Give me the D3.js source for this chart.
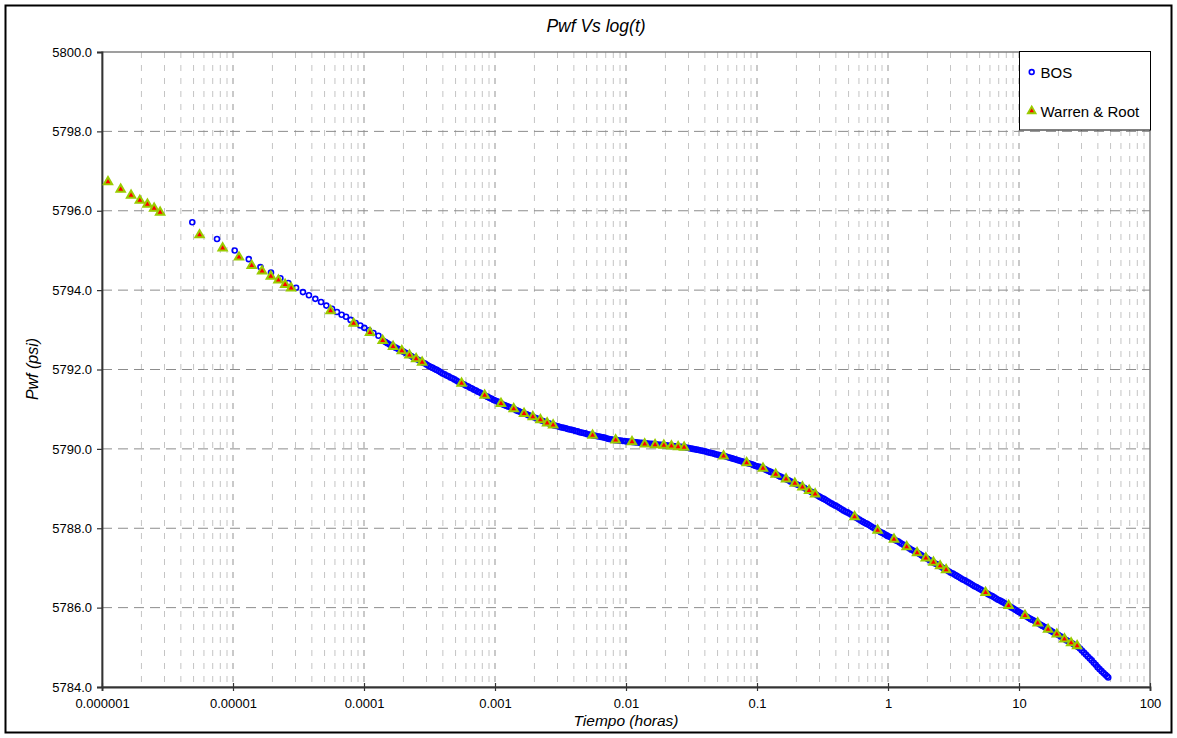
<!DOCTYPE html>
<html>
<head>
<meta charset="utf-8">
<script src="https://cdn.jsdelivr.net/npm/d3@7"></script>
<style>
    body { margin: 0; background: #fff; }
    text { font-family: "Liberation Sans", Arial, sans-serif; fill: #000; }
</style>
</head>
<body>
<div id="chart"></div>
<script>
// BOS series: time (hours) and Pwf (psi)
const bosTime = [
    4.89e-6, 7.55e-6, 1.03e-5, 1.32e-5, 1.62e-5, 1.95e-5, 2.30e-5, 2.64e-5, 3.03e-5, 3.42e-5,
    3.80e-5, 4.25e-5, 4.70e-5, 5.16e-5, 5.70e-5, 6.22e-5, 6.75e-5, 7.29e-5, 7.90e-5, 8.63e-5,
    9.37e-5, 1.005e-4, 1.09e-4, 1.18e-4, 1.29e-4,
    1.41e-4, 1.46e-4, 1.51e-4, 1.57e-4, 1.62e-4, 1.68e-4, 1.74e-4, 1.80e-4, 1.86e-4, 1.93e-4,
    2.00e-4, 2.07e-4, 2.14e-4, 2.21e-4, 2.29e-4, 2.37e-4, 2.46e-4, 2.54e-4, 2.63e-4, 2.72e-4,
    2.82e-4, 2.92e-4, 3.02e-4, 3.13e-4, 3.24e-4, 3.35e-4, 3.47e-4, 3.59e-4, 3.72e-4, 3.85e-4,
    3.98e-4, 4.12e-4, 4.27e-4, 4.42e-4, 4.57e-4, 4.73e-4, 4.90e-4, 5.07e-4, 5.25e-4, 5.43e-4,
    5.62e-4, 5.82e-4, 6.03e-4, 6.24e-4, 6.46e-4, 6.68e-4, 6.92e-4, 7.16e-4, 7.41e-4, 7.67e-4,
    7.94e-4, 8.22e-4, 8.51e-4, 8.81e-4, 9.12e-4, 9.44e-4, 9.77e-4,
    1.00e-3, 1.04e-3, 1.07e-3, 1.11e-3, 1.15e-3, 1.19e-3, 1.23e-3, 1.27e-3, 1.32e-3, 1.37e-3,
    1.41e-3, 1.46e-3, 1.51e-3, 1.57e-3, 1.62e-3, 1.68e-3, 1.74e-3, 1.80e-3, 1.86e-3, 1.93e-3,
    2.00e-3, 2.07e-3, 2.14e-3, 2.21e-3, 2.29e-3, 2.37e-3, 2.46e-3, 2.54e-3, 2.63e-3, 2.72e-3,
    2.82e-3, 2.92e-3, 3.02e-3, 3.13e-3, 3.24e-3, 3.35e-3, 3.47e-3, 3.59e-3, 3.72e-3, 3.85e-3,
    3.98e-3, 4.12e-3, 4.27e-3, 4.42e-3, 4.57e-3, 4.73e-3, 4.90e-3, 5.07e-3, 5.25e-3, 5.43e-3,
    5.62e-3, 5.82e-3, 6.03e-3, 6.24e-3, 6.46e-3, 6.68e-3, 6.92e-3, 7.16e-3, 7.41e-3, 7.67e-3,
    7.94e-3, 8.22e-3, 8.51e-3, 8.81e-3, 9.12e-3, 9.44e-3, 9.77e-3,
    1.00e-2, 1.04e-2, 1.07e-2, 1.11e-2, 1.15e-2, 1.19e-2, 1.23e-2, 1.27e-2, 1.32e-2, 1.37e-2,
    1.41e-2, 1.46e-2, 1.51e-2, 1.57e-2, 1.62e-2, 1.68e-2, 1.74e-2, 1.80e-2, 1.86e-2, 1.93e-2,
    2.00e-2, 2.07e-2, 2.14e-2, 2.21e-2, 2.29e-2, 2.37e-2, 2.46e-2, 2.54e-2, 2.63e-2, 2.72e-2,
    2.82e-2, 2.92e-2, 3.02e-2, 3.13e-2, 3.24e-2, 3.35e-2, 3.47e-2, 3.59e-2, 3.72e-2, 3.85e-2,
    3.98e-2, 4.12e-2, 4.27e-2, 4.42e-2, 4.57e-2, 4.73e-2, 4.90e-2, 5.07e-2, 5.25e-2, 5.43e-2,
    5.62e-2, 5.82e-2, 6.03e-2, 6.24e-2, 6.46e-2, 6.68e-2, 6.92e-2, 7.16e-2, 7.41e-2, 7.67e-2,
    7.94e-2, 8.22e-2, 8.51e-2, 8.81e-2, 9.12e-2, 9.44e-2, 9.77e-2,
    0.100, 0.104, 0.107, 0.111, 0.115, 0.119, 0.123, 0.127, 0.132, 0.137,
    0.141, 0.146, 0.151, 0.157, 0.162, 0.168, 0.174, 0.180, 0.186, 0.193,
    0.200, 0.207, 0.214, 0.221, 0.229, 0.237, 0.246, 0.254, 0.263, 0.272,
    0.282, 0.292, 0.302, 0.313, 0.324, 0.335, 0.347, 0.359, 0.372, 0.385,
    0.398, 0.412, 0.427, 0.442, 0.457, 0.473, 0.490, 0.507, 0.525, 0.543,
    0.562, 0.582, 0.603, 0.624, 0.646, 0.668, 0.692, 0.716, 0.741, 0.767,
    0.794, 0.822, 0.851, 0.881, 0.912, 0.944, 0.977,
    1.00, 1.04, 1.07, 1.11, 1.15, 1.19, 1.23, 1.27, 1.32, 1.37,
    1.41, 1.46, 1.51, 1.57, 1.62, 1.68, 1.74, 1.80, 1.86, 1.93,
    2.00, 2.07, 2.14, 2.21, 2.29, 2.37, 2.46, 2.54, 2.63, 2.72,
    2.82, 2.92, 3.02, 3.13, 3.24, 3.35, 3.47, 3.59, 3.72, 3.85,
    3.98, 4.12, 4.27, 4.42, 4.57, 4.73, 4.90, 5.07, 5.25, 5.43,
    5.62, 5.82, 6.03, 6.24, 6.46, 6.68, 6.92, 7.16, 7.41, 7.67,
    7.94, 8.22, 8.51, 8.81, 9.12, 9.44, 9.77,
    10.0, 10.4, 10.7, 11.1, 11.5, 11.9, 12.3, 12.7, 13.2, 13.7,
    14.1, 14.6, 15.1, 15.7, 16.2, 16.8, 17.4, 18.0, 18.6, 19.3,
    20.0, 20.7, 21.4, 22.1, 22.9, 23.7, 24.6, 25.4, 26.3, 27.2,
    28.2, 29.2, 30.2, 31.3, 32.4, 33.5, 34.7, 35.9, 37.2, 38.5,
    39.8, 41.2, 42.7, 44.2, 45.7, 47.0, 48.0
];
const bosPwf = [
    5795.71, 5795.29, 5795.00, 5794.78, 5794.58, 5794.44, 5794.30, 5794.18, 5794.06, 5793.95,
    5793.87, 5793.78, 5793.70, 5793.61, 5793.53, 5793.45, 5793.38, 5793.33, 5793.25, 5793.17,
    5793.11, 5793.05, 5792.99, 5792.92, 5792.85,
    5792.72, 5792.69, 5792.66, 5792.63, 5792.60, 5792.58, 5792.55, 5792.53, 5792.50, 5792.48,
    5792.45, 5792.42, 5792.39, 5792.37, 5792.34, 5792.31, 5792.28, 5792.26, 5792.23, 5792.20,
    5792.17, 5792.15, 5792.12, 5792.09, 5792.06, 5792.04, 5792.01, 5791.99, 5791.96, 5791.93,
    5791.90, 5791.88, 5791.85, 5791.83, 5791.80, 5791.78, 5791.75, 5791.72, 5791.69, 5791.67,
    5791.64, 5791.62, 5791.59, 5791.57, 5791.54, 5791.52, 5791.49, 5791.47, 5791.44, 5791.42,
    5791.39, 5791.36, 5791.33, 5791.31, 5791.28, 5791.26, 5791.23,
    5791.22, 5791.20, 5791.17, 5791.15, 5791.12, 5791.10, 5791.08, 5791.06, 5791.04, 5791.02,
    5791.00, 5790.97, 5790.95, 5790.93, 5790.91, 5790.89, 5790.87, 5790.85, 5790.83, 5790.81,
    5790.79, 5790.77, 5790.75, 5790.73, 5790.71, 5790.69, 5790.66, 5790.65, 5790.63, 5790.61,
    5790.59, 5790.58, 5790.57, 5790.55, 5790.54, 5790.53, 5790.52, 5790.50, 5790.49, 5790.48,
    5790.47, 5790.45, 5790.44, 5790.42, 5790.41, 5790.40, 5790.39, 5790.37, 5790.36, 5790.35,
    5790.34, 5790.33, 5790.32, 5790.31, 5790.30, 5790.29, 5790.28, 5790.26, 5790.25, 5790.24,
    5790.23, 5790.22, 5790.22, 5790.21, 5790.21, 5790.20, 5790.20,
    5790.190, 5790.185, 5790.180, 5790.175, 5790.170, 5790.165, 5790.160, 5790.155, 5790.150, 5790.145,
    5790.140, 5790.135, 5790.130, 5790.125, 5790.120, 5790.115, 5790.110, 5790.105, 5790.100, 5790.095,
    5790.090, 5790.085, 5790.080, 5790.075, 5790.070, 5790.065, 5790.060, 5790.055, 5790.050, 5790.045,
    5790.040, 5790.030, 5790.020, 5790.010, 5790.000, 5789.990, 5789.980, 5789.970, 5789.960, 5789.950,
    5789.940, 5789.925, 5789.910, 5789.900, 5789.890, 5789.875, 5789.860, 5789.850, 5789.840, 5789.830,
    5789.820, 5789.805, 5789.790, 5789.775, 5789.760, 5789.745, 5789.730, 5789.715, 5789.700, 5789.685,
    5789.670, 5789.655, 5789.640, 5789.625, 5789.610, 5789.590, 5789.570,
    5789.56, 5789.55, 5789.54, 5789.51, 5789.49, 5789.46, 5789.44, 5789.42, 5789.40, 5789.37,
    5789.35, 5789.32, 5789.30, 5789.28, 5789.26, 5789.23, 5789.21, 5789.18, 5789.16, 5789.13,
    5789.11, 5789.09, 5789.07, 5789.04, 5789.02, 5788.99, 5788.96, 5788.93, 5788.91, 5788.88,
    5788.85, 5788.82, 5788.79, 5788.76, 5788.74, 5788.71, 5788.68, 5788.65, 5788.62, 5788.59,
    5788.57, 5788.54, 5788.51, 5788.48, 5788.45, 5788.42, 5788.40, 5788.37, 5788.34, 5788.31,
    5788.28, 5788.25, 5788.22, 5788.19, 5788.16, 5788.13, 5788.11, 5788.08, 5788.05, 5788.02,
    5787.99, 5787.96, 5787.93, 5787.90, 5787.88, 5787.85, 5787.82,
    5787.80, 5787.78, 5787.75, 5787.72, 5787.69, 5787.67, 5787.64, 5787.61, 5787.58, 5787.55,
    5787.52, 5787.49, 5787.46, 5787.43, 5787.40, 5787.38, 5787.35, 5787.32, 5787.29, 5787.26,
    5787.23, 5787.20, 5787.17, 5787.14, 5787.11, 5787.09, 5787.06, 5787.03, 5787.00, 5786.97,
    5786.94, 5786.91, 5786.88, 5786.86, 5786.83, 5786.80, 5786.77, 5786.74, 5786.71, 5786.69,
    5786.66, 5786.63, 5786.60, 5786.57, 5786.54, 5786.52, 5786.49, 5786.46, 5786.43, 5786.40,
    5786.37, 5786.34, 5786.31, 5786.29, 5786.26, 5786.23, 5786.20, 5786.18, 5786.15, 5786.12,
    5786.09, 5786.06, 5786.03, 5786.00, 5785.97, 5785.94, 5785.91,
    5785.89, 5785.86, 5785.83, 5785.80, 5785.77, 5785.74, 5785.71, 5785.69, 5785.66, 5785.63,
    5785.60, 5785.57, 5785.54, 5785.51, 5785.48, 5785.45, 5785.42, 5785.39, 5785.36, 5785.34,
    5785.31, 5785.28, 5785.25, 5785.22, 5785.18, 5785.16, 5785.13, 5785.10, 5785.07, 5785.04,
    5785.01, 5784.97, 5784.92, 5784.87, 5784.82, 5784.77, 5784.72, 5784.67, 5784.61, 5784.56,
    5784.50, 5784.45, 5784.40, 5784.35, 5784.31, 5784.27, 5784.24
];

// Warren & Root series: time (seconds) and Pwf (psi)
const wrSeconds = [
    0.004, 0.005, 0.006, 0.007, 0.008, 0.009, 0.01,
    0.02, 0.03, 0.04, 0.05, 0.06, 0.07, 0.08, 0.09, 0.1,
    0.2, 0.3, 0.4, 0.5, 0.6, 0.7, 0.8, 0.9, 1,
    2, 3, 4, 5, 6, 7, 8, 9, 10,
    20, 30, 40, 50, 60, 70, 80, 90, 100,
    200, 300, 400, 500, 600, 700, 800, 900, 1000,
    2000, 3000, 4000, 5000, 6000, 7000, 8000, 9000, 10000,
    20000, 30000, 40000, 50000, 60000, 70000, 80000, 90000, 100000
];
const wrPwf = [
    5796.73, 5796.54, 5796.39, 5796.26, 5796.16, 5796.06, 5795.96,
    5795.39, 5795.06, 5794.83, 5794.62, 5794.48, 5794.35, 5794.25, 5794.14, 5794.05,
    5793.48, 5793.16, 5792.93, 5792.73, 5792.58, 5792.47, 5792.36, 5792.27, 5792.18,
    5791.65, 5791.35, 5791.14, 5791.01, 5790.89, 5790.81, 5790.73, 5790.65, 5790.60,
    5790.34, 5790.22, 5790.18, 5790.12, 5790.10, 5790.09, 5790.07, 5790.05, 5790.04,
    5789.82, 5789.65, 5789.51, 5789.36, 5789.24, 5789.13, 5789.04, 5788.95, 5788.86,
    5788.29, 5787.95, 5787.72, 5787.53, 5787.38, 5787.25, 5787.14, 5787.05, 5786.95,
    5786.38, 5786.05, 5785.80, 5785.61, 5785.45, 5785.33, 5785.21, 5785.11, 5785.04
];

const xTickValues = [1e-6, 1e-5, 1e-4, 1e-3, 1e-2, 1e-1, 1, 10, 100];
const xTickLabels = ["0.000001", "0.00001", "0.0001", "0.001", "0.01", "0.1", "1", "10", "100"];
const yTickValues = [5784, 5786, 5788, 5790, 5792, 5794, 5796, 5798, 5800];
const seriesNames = ["BOS", "Warren & Root"];

let margin = {top: 52, right: 27, bottom: 51, left: 102},
    width = 1177 - margin.left - margin.right,
    height = 738 - margin.top - margin.bottom;

let root = d3.select("#chart")
    .append("svg")
    .attr("width", 1177)
    .attr("height", 738);

// outer chart frame
root.append("rect")
    .attr("x", 5.5)
    .attr("y", 5.5)
    .attr("width", 1166)
    .attr("height", 727)
    .attr("fill", "#fff")
    .attr("stroke", "#000")
    .attr("stroke-width", 2);

let svg = root.append("g")
    .attr("transform", `translate(${margin.left}, ${margin.top})`);

let x = d3.scaleLog()
    .domain([xTickValues[0], xTickValues[xTickValues.length - 1]])
    .range([0, width]);
let y = d3.scaleLinear()
    .domain([yTickValues[0], yTickValues[yTickValues.length - 1]])
    .range([height, 0]);

// minor vertical grid (2..9 in every decade)
let minor = [];
xTickValues.slice(0, -1).forEach(d => {
    for (let m = 2; m <= 9; m++) minor.push(d * m);
});
svg.selectAll(".minorGrid")
    .data(minor)
    .join("line")
    .attr("class", "minorGrid")
    .attr("x1", d => x(d)).attr("x2", d => x(d))
    .attr("y1", 0).attr("y2", height)
    .attr("stroke", "#c4c4c4")
    .attr("stroke-width", 1)
    .attr("stroke-dasharray", "6,7");

svg.selectAll(".majorGridX")
    .data(xTickValues.slice(1, -1))
    .join("line")
    .attr("class", "majorGridX")
    .attr("x1", d => x(d)).attr("x2", d => x(d))
    .attr("y1", 0).attr("y2", height)
    .attr("stroke", "#a6a6a6")
    .attr("stroke-width", 1.2)
    .attr("stroke-dasharray", "6,7");

svg.selectAll(".majorGridY")
    .data(yTickValues.slice(1, -1))
    .join("line")
    .attr("class", "majorGridY")
    .attr("x1", 0).attr("x2", width)
    .attr("y1", d => y(d)).attr("y2", d => y(d))
    .attr("stroke", "#8c8c8c")
    .attr("stroke-width", 1)
    .attr("stroke-dasharray", "10,6");

// plot area border
svg.append("rect")
    .attr("width", width)
    .attr("height", height)
    .attr("fill", "none")
    .attr("stroke", "#808080")
    .attr("stroke-width", 1.5);

// axes
let yAxis = svg.append("g")
    .call(d3.axisLeft(y).tickValues(yTickValues).tickFormat(d3.format(".1f")).tickSize(5).tickPadding(5));
let xAxis = svg.append("g")
    .attr("transform", `translate(0, ${height})`)
    .call(d3.axisBottom(x).tickValues(xTickValues).tickFormat((d, i) => xTickLabels[i]).tickSize(4).tickPadding(8));
xAxis.selectAll(".tick line").attr("y1", -4);
[xAxis, yAxis].forEach(a => {
    a.select(".domain").attr("stroke", "#333").attr("stroke-width", 1.8);
    a.selectAll(".tick line").attr("stroke", "#333").attr("stroke-width", 1.2);
    a.selectAll("text").style("font-size", "13px").attr("fill", "#000");
});

// BOS points
svg.selectAll(".bos")
    .data(bosTime.map((t, i) => ({t: t, p: bosPwf[i]})))
    .join("circle")
    .attr("class", "bos")
    .attr("cx", d => x(d.t))
    .attr("cy", d => y(d.p))
    .attr("r", 2.5)
    .attr("fill", "none")
    .attr("stroke", "#0000ff")
    .attr("stroke-width", 1.6);

// Warren & Root points
let tri = d3.symbol(d3.symbolTriangle, 30);
svg.selectAll(".wr")
    .data(wrSeconds.map((s, i) => ({t: s / 3600, p: wrPwf[i]})))
    .join("path")
    .attr("class", "wr")
    .attr("d", tri)
    .attr("transform", d => `translate(${x(d.t)}, ${y(d.p)})`)
    .attr("fill", "#ff0000")
    .attr("stroke", "#99cc00")
    .attr("stroke-width", 2);

// titles
root.append("text")
    .attr("x", 596)
    .attr("y", 32)
    .attr("text-anchor", "middle")
    .style("font-size", "17.5px")
    .style("font-style", "italic")
    .text("Pwf Vs log(t)");
root.append("text")
    .attr("x", margin.left + width / 2)
    .attr("y", 726)
    .attr("text-anchor", "middle")
    .style("font-size", "15.5px")
    .style("font-style", "italic")
    .text("Tiempo (horas)");
root.append("text")
    .attr("transform", "translate(38, 369) rotate(-90)")
    .attr("text-anchor", "middle")
    .style("font-size", "16px")
    .style("font-style", "italic")
    .text("Pwf (psi)");

// legend
let legend = root.append("g")
    .attr("transform", "translate(1019.5, 51.5)");
legend.append("rect")
    .attr("width", 131)
    .attr("height", 78.5)
    .attr("fill", "#fff")
    .attr("stroke", "#000")
    .attr("stroke-width", 1);
legend.append("circle")
    .attr("cx", 12.2).attr("cy", 20.5)
    .attr("r", 2.4)
    .attr("fill", "none")
    .attr("stroke", "#0000ff")
    .attr("stroke-width", 1.6);
legend.append("path")
    .attr("d", d3.symbol(d3.symbolTriangle, 26))
    .attr("transform", "translate(12.2, 59.5)")
    .attr("fill", "#ff0000")
    .attr("stroke", "#99cc00")
    .attr("stroke-width", 1.8);
legend.selectAll(".legendText")
    .data(seriesNames)
    .join("text")
    .attr("class", "legendText")
    .attr("x", 21)
    .attr("y", (d, i) => 26 + i * 39)
    .style("font-size", "15px")
    .text(d => d);
</script>
</body>
</html>
